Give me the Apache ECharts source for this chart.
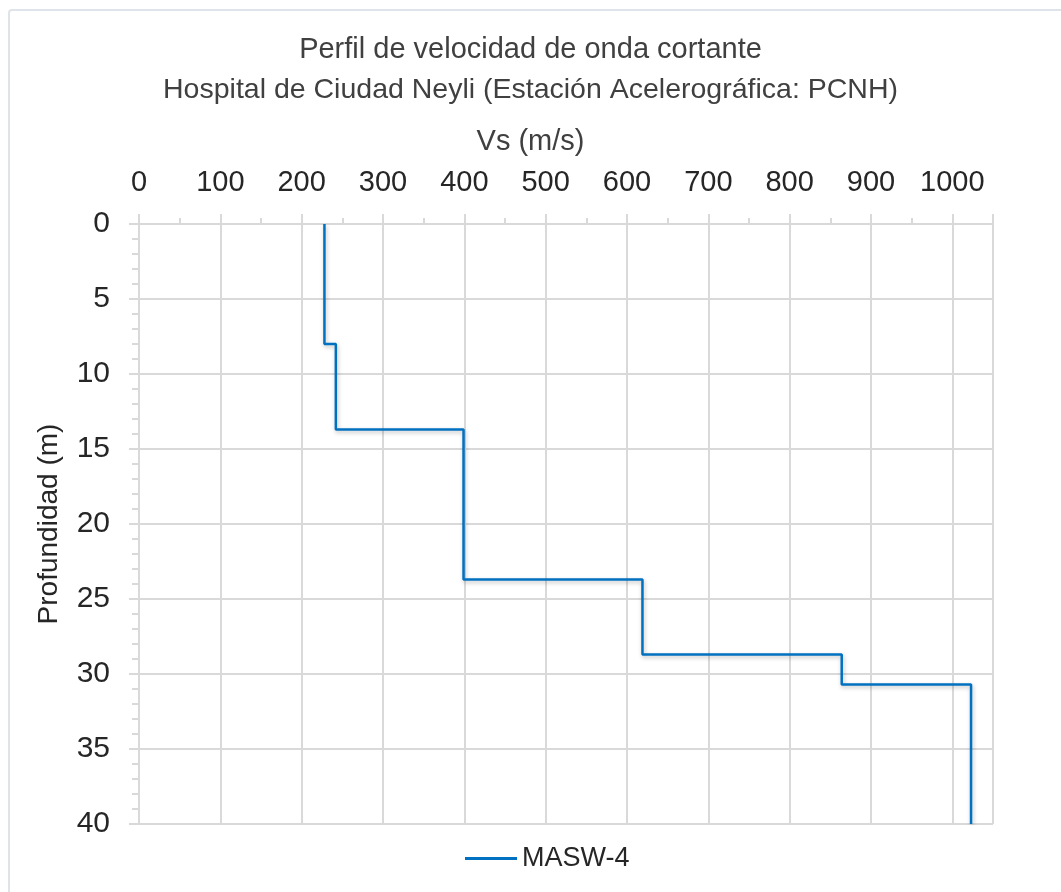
<!DOCTYPE html>
<html>
<head>
<meta charset="utf-8">
<script src="https://cdn.jsdelivr.net/npm/echarts@6/dist/echarts.min.js"></script>
<style>
  html, body { margin: 0; padding: 0; background: #fff; }
  #frame { position: absolute; left: 8px; top: 9px; width: 1060px; height: 890px; border: 2px solid #dfe3ea; border-radius: 4px; box-sizing: border-box; }
  #chart { position: absolute; left: 0; top: 0; width: 1061px; height: 892px; }
</style>
</head>
<body>
<div id="frame"></div>
<div id="chart"></div>
<script>
// perfil Vs por capas
var capaTope = [0, 8, 13.7, 23.7, 28.7, 30.7];
var capaBase = [8, 13.7, 23.7, 28.7, 30.7, 40];
var vsCapa = [228, 242, 399, 619, 864, 1023];
var xTicks = [0, 100, 200, 300, 400, 500, 600, 700, 800, 900, 1000];
var yTicks = [0, 5, 10, 15, 20, 25, 30, 35, 40];

var puntos = [];
for (var i = 0; i < vsCapa.length; i++) {
    puntos.push([vsCapa[i], capaTope[i]]);
    puntos.push([vsCapa[i], capaBase[i]]);
}

var gris = '#d9d9d9';
var texto = '#262626';
var fuente = '"Liberation Sans", Arial, sans-serif';

var dom = document.getElementById('chart');
var myChart = echarts.init(dom);
var option = {
    animation: false,
    graphic: [
        { type: 'text', left: 'center', top: 35, style: { text: 'Perfil de velocidad de onda cortante', font: '29px ' + fuente, fill: '#404040' } },
        { type: 'text', left: 'center', top: 76, style: { text: 'Hospital de Ciudad Neyli (Estación Acelerográfica: PCNH)', font: '28.5px ' + fuente, fill: '#404040' } },
        { type: 'text', left: 'center', top: 127, style: { text: 'Vs (m/s)', font: '29px ' + fuente, fill: '#404040' } }
    ],
    grid: { left: 139, top: 224, width: 854, height: 600 },
    legend: {
        top: 840,
        left: 460,
        itemWidth: 52,
        itemHeight: 3,
        itemGap: 6,
        icon: 'rect',
        textStyle: { fontSize: 27, fontFamily: fuente, color: texto },
        data: ['MASW-4']
    },
    xAxis: {
        type: 'value',
        position: 'top',
        min: 0,
        max: 1050,
        interval: 100,
        axisLine: { show: true, lineStyle: { color: gris, width: 2 } },
        axisTick: { show: true, length: 10, lineStyle: { color: gris, width: 2 } },
        minorTick: { show: true, splitNumber: 2, length: 6, lineStyle: { color: gris, width: 2 } },
        splitLine: { show: true, lineStyle: { color: gris, width: 2 } },
        axisLabel: {
            margin: 27,
            fontSize: 29,
            fontFamily: fuente,
            color: texto,
            customValues: xTicks,
            formatter: function (v) { return String(v); }
        }
    },
    yAxis: {
        type: 'value',
        inverse: true,
        min: 0,
        max: 40,
        interval: 5,
        name: 'Profundidad (m)',
        nameLocation: 'middle',
        nameGap: 76,
        nameTextStyle: { fontSize: 28, fontFamily: fuente, color: texto },
        axisLine: { show: true, lineStyle: { color: gris, width: 2 } },
        axisTick: { show: true, length: 10, lineStyle: { color: gris, width: 2 } },
        minorTick: { show: true, splitNumber: 5, length: 7, lineStyle: { color: gris, width: 2 } },
        splitLine: { show: true, lineStyle: { color: gris, width: 2 } },
        axisLabel: {
            margin: 29,
            fontSize: 30,
            fontFamily: fuente,
            color: texto,
            customValues: yTicks,
            formatter: function (v) { return String(v); }
        }
    },
    series: [
        {
            name: 'MASW-4',
            type: 'line',
            data: puntos,
            showSymbol: false,
            symbol: 'none',
            color: '#0070c0',
            lineStyle: {
                color: '#0070c0',
                width: 2.5,
                shadowColor: 'rgba(0,0,0,0.25)',
                shadowBlur: 4,
                shadowOffsetX: 1,
                shadowOffsetY: 2
            }
        }
    ]
};
if (option && typeof option === "object") {
    myChart.setOption(option, true);
}
</script>
</body>
</html>
